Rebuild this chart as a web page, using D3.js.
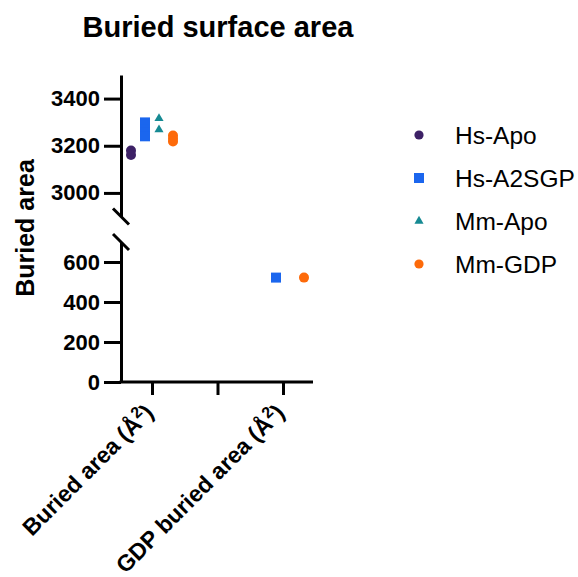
<!DOCTYPE html>
<html>
<head>
<meta charset="utf-8">
<script src="https://cdn.jsdelivr.net/npm/d3@7"></script>
<style>
  html, body { margin: 0; padding: 0; background: #fff; }
  svg { display: block; }
  text { font-family: "Liberation Sans", Arial, sans-serif; }
</style>
</head>
<body>
<svg id="chart" width="578" height="577"></svg>
<script>
// ---------- data ----------
const groups = ["Buried area", "", "GDP buried area"];
const seriesNames = ["Hs-Apo", "Hs-A2SGP", "Mm-Apo", "Mm-GDP"];
const seriesColors = ["#3d2166", "#1b66ee", "#168a93", "#fd6a0a"];
const seriesShapes = ["circle", "square", "triangle", "circle"];
// values per series per group (group 0 = Buried area, group 2 = GDP buried area)
const hsApo    = [[3180, 3161], [], []];
const hsA2SGP  = [[3299, 3285, 3270, 3255, 3240], [], [522]];
const mmApo    = [[3316, 3268], [], []];
const mmGDP    = [[3243, 3230, 3218], [], [522]];
const upperTicks = [3000, 3200, 3400];
const lowerTicks = [0, 200, 400, 600];
const upperDomain = [2900, 3500];
const lowerDomain = [0, 700];

const allSeries = [hsApo, hsA2SGP, mmApo, mmGDP];

// ---------- layout ----------
const svg = d3.select("#chart");
const axisX = 121, baseY = 382;
const yUpper = d3.scaleLinear().domain(upperDomain).range([216.5, 75]);
const yLower = d3.scaleLinear().domain(lowerDomain).range([baseY, 242]);
const x = d3.scalePoint().domain(groups).range([152, 283]);
const sub = d3.scalePoint().domain(seriesNames).range([-21, 21]);

const symbolFor = {
  circle: d3.symbol().type(d3.symbolCircle).size(Math.PI * 5 * 5),
  square: d3.symbol().type(d3.symbolSquare).size(100),
  triangle: d3.symbol().type(d3.symbolTriangle).size(36)
};

// title
svg.append("text")
  .attr("x", 218).attr("y", 37)
  .attr("text-anchor", "middle")
  .attr("font-size", 29).attr("font-weight", "bold")
  .text("Buried surface area");

// y label
svg.append("text")
  .attr("transform", "translate(34,228) rotate(-90)")
  .attr("text-anchor", "middle")
  .attr("font-size", 25).attr("font-weight", "bold")
  .text("Buried area");

function styleAxis(g) {
  g.selectAll("path.domain").attr("stroke", "#000").attr("stroke-width", 3);
  g.selectAll(".tick line").attr("stroke", "#000").attr("stroke-width", 3);
  g.selectAll(".tick text")
    .attr("font-family", "Liberation Sans, Arial, sans-serif")
    .attr("font-size", 22).attr("font-weight", "bold").attr("fill", "#000");
}

// upper y axis
const gUp = svg.append("g").attr("transform", `translate(${axisX},0)`)
  .call(d3.axisLeft(yUpper).tickValues(upperTicks).tickSize(17).tickSizeOuter(0).tickPadding(4).tickFormat(d3.format("d")));
styleAxis(gUp);

// lower y axis
const gLo = svg.append("g").attr("transform", `translate(${axisX},0)`)
  .call(d3.axisLeft(yLower).tickValues(lowerTicks).tickSize(17).tickSizeOuter(0).tickPadding(4).tickFormat(d3.format("d")));
styleAxis(gLo);

// break marks
[yUpper(upperDomain[0]), yLower(lowerDomain[1])].forEach(yy => {
  svg.append("line")
    .attr("x1", axisX - 8).attr("y1", yy - 8)
    .attr("x2", axisX + 8).attr("y2", yy + 8)
    .attr("stroke", "#000").attr("stroke-width", 3);
});

// x axis
const gX = svg.append("g").attr("transform", `translate(0,${baseY})`)
  .call(d3.axisBottom(x).tickSize(13).tickSizeOuter(0).tickFormat(""));
gX.select("path.domain").remove();
gX.selectAll(".tick line").attr("stroke", "#000").attr("stroke-width", 3);
svg.append("line")
  .attr("x1", axisX - 1.5).attr("x2", 313)
  .attr("y1", baseY).attr("y2", baseY)
  .attr("stroke", "#000").attr("stroke-width", 3);

// x labels
const xLabels = [{g: groups[0], t: "Buried area (Å"}, {g: groups[2], t: "GDP buried area (Å"}];
xLabels.forEach(l => {
  const t = svg.append("text")
    .attr("transform", `translate(${x(l.g) + 3},${baseY + 32}) rotate(-45)`)
    .attr("text-anchor", "end")
    .attr("font-size", 23).attr("font-weight", "bold");
  t.append("tspan").text(l.t);
  t.append("tspan").attr("dy", -9).attr("font-size", 16).text("2");
  t.append("tspan").attr("dy", 9).text(")");
});

// points
allSeries.forEach((s, si) => {
  s.forEach((vals, gi) => {
    vals.forEach(v => {
      const scale = v >= upperDomain[0] ? yUpper : yLower;
      svg.append("path")
        .attr("d", symbolFor[seriesShapes[si]]())
        .attr("transform", `translate(${x(groups[gi]) + sub(seriesNames[si])},${scale(v)})`)
        .attr("fill", seriesColors[si]);
    });
  });
});

// legend
const legY = d3.scalePoint().domain(seriesNames).range([135, 264]);
seriesNames.forEach((n, i) => {
  const sym = seriesShapes[i] === "circle"
    ? d3.symbol().type(d3.symbolCircle).size(Math.PI * 4.6 * 4.6)
    : symbolFor[seriesShapes[i]];
  svg.append("path")
    .attr("d", sym())
    .attr("transform", `translate(419,${legY(n)})`)
    .attr("fill", seriesColors[i]);
  svg.append("text")
    .attr("x", 455).attr("y", legY(n) + 9)
    .attr("font-size", 24.5)
    .text(n);
});
</script>
</body>
</html>
